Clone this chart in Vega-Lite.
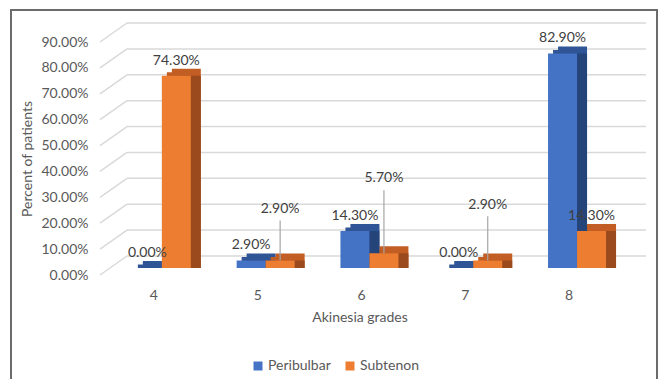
{
  "$schema": "https://vega.github.io/schema/vega-lite/v6.json",
  "width": 646,
  "height": 375,
  "autosize": "none",
  "padding": {"left": 11, "top": 10, "right": 2, "bottom": 0},
  "background": "white",
  "config": {
    "view": {"stroke": "#6b6b6b", "strokeWidth": 2},
    "font": "Lato"
  },
  "datasets": {
    "bars": [
      {"grade": "4", "group": "Peribulbar", "value": 0.0},
      {"grade": "4", "group": "Subtenon", "value": 0.743},
      {"grade": "5", "group": "Peribulbar", "value": 0.029},
      {"grade": "5", "group": "Subtenon", "value": 0.029},
      {"grade": "6", "group": "Peribulbar", "value": 0.143},
      {"grade": "6", "group": "Subtenon", "value": 0.057},
      {"grade": "7", "group": "Peribulbar", "value": 0.0},
      {"grade": "7", "group": "Subtenon", "value": 0.029},
      {"grade": "8", "group": "Peribulbar", "value": 0.829},
      {"grade": "8", "group": "Subtenon", "value": 0.143}
    ],
    "ticks": [
      {"v": 0}, {"v": 0.1}, {"v": 0.2}, {"v": 0.3}, {"v": 0.4},
      {"v": 0.5}, {"v": 0.6}, {"v": 0.7}, {"v": 0.8}, {"v": 0.9}
    ],
    "diag": [
      {"v": 0, "end": 0}, {"v": 0, "end": 1},
      {"v": 0.1, "end": 0}, {"v": 0.1, "end": 1},
      {"v": 0.2, "end": 0}, {"v": 0.2, "end": 1},
      {"v": 0.3, "end": 0}, {"v": 0.3, "end": 1},
      {"v": 0.4, "end": 0}, {"v": 0.4, "end": 1},
      {"v": 0.5, "end": 0}, {"v": 0.5, "end": 1},
      {"v": 0.6, "end": 0}, {"v": 0.6, "end": 1},
      {"v": 0.7, "end": 0}, {"v": 0.7, "end": 1},
      {"v": 0.8, "end": 0}, {"v": 0.8, "end": 1},
      {"v": 0.9, "end": 0}, {"v": 0.9, "end": 1}
    ]
  },
  "resolve": {
    "scale": {"x": "independent", "y": "independent", "xOffset": "independent", "yOffset": "independent", "color": "independent"}
  },
  "layer": [
    {
      "data": {"name": "ticks"},
      "mark": {"type": "rule", "color": "#D9D9D9", "strokeWidth": 1.5},
      "encoding": {
        "x": {"datum": 0, "type": "quantitative", "scale": {"domain": [0, 1], "range": [116, 635]}, "axis": null},
        "x2": {"datum": 1},
        "y": {"field": "v", "type": "quantitative", "scale": {"domain": [0, 0.9], "range": [246, 13], "nice": false, "zero": false}, "axis": null}
      }
    },
    {
      "data": {"name": "diag"},
      "mark": {"type": "line", "color": "#D9D9D9", "strokeWidth": 1.5},
      "encoding": {
        "x": {"field": "end", "type": "quantitative", "scale": {"domain": [0, 1], "range": [89, 116]}, "axis": null},
        "y": {
          "field": "v", "type": "ordinal", "sort": "descending",
          "scale": {"type": "point", "range": [32, 265], "padding": 0},
          "axis": {
            "labelExpr": "format(datum.value, '.2%')", "title": "Percent of patients",
            "offset": -77, "labelPadding": 0, "ticks": false, "domain": false, "grid": false,
            "labelFontSize": 14, "labelColor": "#595959",
            "titleFontSize": 14, "titleColor": "#595959", "titleFontWeight": "normal", "titlePadding": 6
          }
        },
        "yOffset": {"field": "end", "type": "quantitative", "scale": {"domain": [0, 1], "range": [0, -19]}},
        "detail": {"field": "v", "type": "nominal"}
      }
    },
    {
      "data": {"name": "bars"},
      "mark": {"type": "bar"},
      "encoding": {
        "x": {"field": "grade", "type": "ordinal", "scale": {"domain": ["4", "5", "6", "7", "8"], "range": [89, 608], "paddingInner": 0.44, "paddingOuter": 0.22}, "axis": null},
        "xOffset": {"field": "group", "type": "nominal", "scale": {"domain": ["Peribulbar", "Subtenon"], "range": [20, 78]}},
        "y": {"field": "value", "type": "quantitative", "scale": {"domain": [0, 0.9], "range": [251, 18], "nice": false}, "axis": null},
        "y2": {"datum": -0.027},
        "color": {"field": "group", "type": "nominal", "scale": {"domain": ["Peribulbar", "Subtenon"], "range": ["#2F5597", "#C25E24"]}, "legend": null}
      }
    },
    {
      "data": {"name": "bars"},
      "mark": {"type": "bar"},
      "encoding": {
        "x": {"field": "grade", "type": "ordinal", "scale": {"domain": ["4", "5", "6", "7", "8"], "range": [89, 608], "paddingInner": 0.44, "paddingOuter": 0.22}, "axis": null},
        "xOffset": {"field": "group", "type": "nominal", "scale": {"domain": ["Peribulbar", "Subtenon"], "range": [15, 73]}},
        "y": {"field": "value", "type": "quantitative", "scale": {"domain": [0, 0.9], "range": [254.5, 21.5], "nice": false}, "axis": null},
        "y2": {"datum": -0.0135},
        "color": {"field": "group", "type": "nominal", "scale": {"domain": ["Peribulbar", "Subtenon"], "range": ["#2F5597", "#C25E24"]}, "legend": null}
      }
    },
    {
      "data": {"name": "bars"},
      "mark": {"type": "bar"},
      "encoding": {
        "x": {"field": "grade", "type": "ordinal", "scale": {"domain": ["4", "5", "6", "7", "8"], "range": [89, 608], "paddingInner": 0.44, "paddingOuter": 0.22}, "axis": null},
        "xOffset": {"field": "group", "type": "nominal", "scale": {"domain": ["Peribulbar", "Subtenon"], "range": [20, 78]}},
        "y": {"field": "value", "type": "quantitative", "scale": {"domain": [0, 0.9], "range": [258, 25], "nice": false}, "axis": null},
        "color": {"field": "group", "type": "nominal", "scale": {"domain": ["Peribulbar", "Subtenon"], "range": ["#25447A", "#9A4A1D"]}, "legend": null}
      }
    },
    {
      "data": {"name": "bars"},
      "mark": {"type": "bar"},
      "encoding": {
        "x": {
          "field": "grade", "type": "ordinal",
          "scale": {"domain": ["4", "5", "6", "7", "8"], "range": [89, 608], "paddingInner": 0.44, "paddingOuter": 0.22},
          "axis": {
            "title": "Akinesia grades", "offset": -97, "ticks": false, "domain": false, "labelPadding": 0,
            "labelAngle": 0, "labelOffset": 2, "labelFontSize": 14, "labelColor": "#595959",
            "titleFontSize": 14, "titleColor": "#595959", "titleFontWeight": "normal", "titlePadding": 8
          }
        },
        "xOffset": {"field": "group", "type": "nominal", "scale": {"domain": ["Peribulbar", "Subtenon"], "range": [10, 68]}},
        "y": {"field": "value", "type": "quantitative", "scale": {"domain": [0, 0.9], "range": [258, 25], "nice": false}, "axis": null},
        "color": {
          "field": "group", "type": "nominal",
          "scale": {"domain": ["Peribulbar", "Subtenon"], "range": ["#4472C4", "#ED7D31"]},
          "legend": {
            "title": null, "orient": "none", "legendX": 240, "legendY": 349, "direction": "horizontal",
            "symbolType": "square", "symbolSize": 81, "symbolStrokeWidth": 0,
            "labelFontSize": 14, "labelColor": "#595959", "columnPadding": 12, "labelOffset": 3
          }
        }
      }
    },
    {
      "data": {"name": "bars"},
      "transform": [{"filter": "!(datum.group == 'Subtenon' && indexof(['5','6','7'], datum.grade) >= 0)"}],
      "mark": {"type": "text", "baseline": "middle", "dy": -15, "fontSize": 14, "color": "#404040"},
      "encoding": {
        "x": {"field": "grade", "type": "ordinal", "scale": {"domain": ["4", "5", "6", "7", "8"], "range": [89, 608], "paddingInner": 0.44, "paddingOuter": 0.22}, "axis": null},
        "xOffset": {"field": "group", "type": "nominal", "scale": {"domain": ["Peribulbar", "Subtenon"], "range": [10, 68]}},
        "y": {"field": "value", "type": "quantitative", "scale": {"domain": [0, 0.9], "range": [258, 25], "nice": false}, "axis": null},
        "text": {"field": "value", "type": "quantitative", "format": ".2%"}
      }
    },
    {
      "data": {"name": "bars"},
      "transform": [{"filter": "datum.group == 'Subtenon' && datum.grade == '5'"}],
      "encoding": {
        "x": {"field": "grade", "type": "ordinal", "scale": {"domain": ["4", "5", "6", "7", "8"], "range": [89, 608], "paddingInner": 0.44, "paddingOuter": 0.22}, "axis": null},
        "xOffset": {"field": "group", "type": "nominal", "scale": {"domain": ["Peribulbar", "Subtenon"], "range": [10, 68]}}
      },
      "layer": [
        {
          "mark": {"type": "rule", "color": "#A6A6A6", "strokeWidth": 1.2},
          "encoding": {
            "y": {"field": "value", "type": "quantitative", "scale": {"domain": [0, 0.9], "range": [258, 25], "nice": false}, "axis": null},
            "y2": {"datum": 0.183}
          }
        },
        {
          "mark": {"type": "text", "baseline": "middle", "fontSize": 14, "color": "#404040"},
          "encoding": {
            "y": {"datum": 0.228, "type": "quantitative", "scale": {"domain": [0, 0.9], "range": [258, 25], "nice": false}, "axis": null},
            "text": {"field": "value", "type": "quantitative", "format": ".2%"}
          }
        }
      ]
    },
    {
      "data": {"name": "bars"},
      "transform": [{"filter": "datum.group == 'Subtenon' && datum.grade == '6'"}],
      "encoding": {
        "x": {"field": "grade", "type": "ordinal", "scale": {"domain": ["4", "5", "6", "7", "8"], "range": [89, 608], "paddingInner": 0.44, "paddingOuter": 0.22}, "axis": null},
        "xOffset": {"field": "group", "type": "nominal", "scale": {"domain": ["Peribulbar", "Subtenon"], "range": [10, 68]}}
      },
      "layer": [
        {
          "mark": {"type": "rule", "color": "#A6A6A6", "strokeWidth": 1.2},
          "encoding": {
            "y": {"field": "value", "type": "quantitative", "scale": {"domain": [0, 0.9], "range": [258, 25], "nice": false}, "axis": null},
            "y2": {"datum": 0.3}
          }
        },
        {
          "mark": {"type": "text", "baseline": "middle", "fontSize": 14, "color": "#404040"},
          "encoding": {
            "y": {"datum": 0.347, "type": "quantitative", "scale": {"domain": [0, 0.9], "range": [258, 25], "nice": false}, "axis": null},
            "text": {"field": "value", "type": "quantitative", "format": ".2%"}
          }
        }
      ]
    },
    {
      "data": {"name": "bars"},
      "transform": [{"filter": "datum.group == 'Subtenon' && datum.grade == '7'"}],
      "encoding": {
        "x": {"field": "grade", "type": "ordinal", "scale": {"domain": ["4", "5", "6", "7", "8"], "range": [89, 608], "paddingInner": 0.44, "paddingOuter": 0.22}, "axis": null},
        "xOffset": {"field": "group", "type": "nominal", "scale": {"domain": ["Peribulbar", "Subtenon"], "range": [10, 68]}}
      },
      "layer": [
        {
          "mark": {"type": "rule", "color": "#A6A6A6", "strokeWidth": 1.2},
          "encoding": {
            "y": {"field": "value", "type": "quantitative", "scale": {"domain": [0, 0.9], "range": [258, 25], "nice": false}, "axis": null},
            "y2": {"datum": 0.2}
          }
        },
        {
          "mark": {"type": "text", "baseline": "middle", "fontSize": 14, "color": "#404040"},
          "encoding": {
            "y": {"datum": 0.243, "type": "quantitative", "scale": {"domain": [0, 0.9], "range": [258, 25], "nice": false}, "axis": null},
            "text": {"field": "value", "type": "quantitative", "format": ".2%"}
          }
        }
      ]
    }
  ]
}
